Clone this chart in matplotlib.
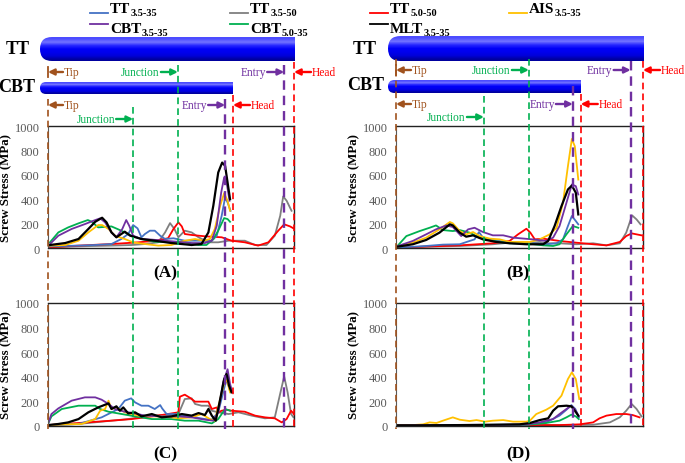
import numpy as np
import matplotlib.pyplot as plt
from matplotlib.patches import FancyBboxPatch, Rectangle

plt.rcParams["font.family"] = ["Liberation Serif", "DejaVu Serif"]

W, H = 685, 464

# ---- stress along the screw (x: mm from the tip, y: MPa) ----
# panel A
a_tt3535_x = [0.4, 6.2, 9.6, 12.9, 14.9, 16.3, 17.3, 18.2, 19.0, 19.7, 20.7, 21.7, 22.8, 23.8, 25.5, 27.8, 31.2, 33.3, 34.3, 35.3, 36.0, 36.5, 37.1]
a_tt3535_y = [16, 22, 27, 35, 76, 117, 190, 163, 90, 117, 144, 144, 103, 76, 82, 62, 62, 62, 103, 266, 416, 375, 307]
a_tt3550_x = [0.4, 6.2, 12.9, 17.0, 19.7, 22.4, 23.8, 24.8, 25.7, 26.5, 27.8, 29.2, 30.6, 32.6, 34.6, 36.7, 38.7, 40.0, 42.1, 44.4, 46.1, 47.2, 47.8, 48.5, 49.5]
a_tt3550_y = [8, 16, 22, 27, 35, 49, 130, 206, 158, 90, 144, 130, 90, 49, 49, 62, 62, 62, 27, 27, 103, 266, 424, 389, 307]
a_cbt3535_x = [0.4, 2.1, 4.8, 7.5, 9.6, 10.6, 11.6, 12.9, 13.9, 15.1, 15.9, 16.5, 17.3, 19.0, 21.1, 23.8, 29.2, 31.9, 33.3, 34.3, 35.2, 35.8, 36.3, 36.9]
a_cbt3535_y = [35, 103, 158, 198, 231, 245, 212, 130, 90, 158, 231, 185, 103, 76, 71, 62, 43, 43, 62, 185, 456, 579, 538, 389]
a_cbt5035_x = [0.4, 2.1, 4.1, 6.2, 8.1, 8.9, 10.2, 12.9, 14.9, 17.0, 19.0, 21.7, 25.1, 27.8, 30.6, 32.2, 33.6, 34.6, 35.8, 36.5, 37.0]
a_cbt5035_y = [49, 130, 171, 204, 231, 217, 171, 179, 144, 103, 76, 54, 49, 49, 27, 27, 76, 144, 247, 239, 217]
a_tt5050_x = [0.4, 6.2, 12.9, 18.4, 21.7, 24.4, 25.5, 26.5, 27.2, 27.8, 29.2, 31.9, 35.3, 37.3, 40.0, 42.7, 44.8, 46.8, 48.0, 49.2, 49.9]
a_tt5050_y = [8, 22, 35, 49, 62, 82, 158, 212, 179, 117, 109, 98, 90, 62, 49, 22, 49, 144, 196, 179, 163]
a_ais_x = [0.4, 3.5, 6.2, 8.2, 10.2, 11.0, 12.3, 13.6, 15.6, 17.3, 19.7, 22.4, 25.1, 27.8, 29.9, 31.6, 32.9, 33.9, 35.0, 35.8, 36.5, 37.0]
a_ais_y = [22, 27, 62, 130, 190, 190, 158, 103, 76, 49, 35, 22, 27, 62, 76, 62, 76, 158, 348, 451, 389, 307]
a_mlt_x = [0.4, 3.5, 6.2, 8.2, 9.6, 11.0, 11.9, 12.9, 13.9, 15.6, 16.7, 19.0, 21.7, 25.1, 29.2, 31.2, 32.6, 33.6, 34.6, 35.4, 36.0, 36.5, 37.0]
a_mlt_y = [27, 43, 76, 158, 217, 250, 212, 130, 90, 136, 103, 76, 62, 43, 27, 35, 130, 348, 620, 701, 674, 538, 402]

# panel B
b_tt3535_x = [0.4, 6.1, 9.5, 12.9, 14.9, 15.9, 16.8, 17.6, 19.0, 21.0, 23.7, 27.7, 30.4, 32.5, 33.8, 34.8, 35.6, 36.4, 36.9]
b_tt3535_y = [5, 19, 30, 33, 60, 73, 133, 87, 73, 60, 41, 41, 33, 41, 73, 182, 264, 223, 196]
b_tt3550_x = [0.4, 6.1, 12.9, 19.6, 23.0, 26.4, 29.1, 30.4, 33.1, 36.5, 39.9, 42.6, 45.3, 46.6, 47.8, 48.7, 49.5]
b_tt3550_y = [5, 14, 19, 33, 46, 41, 52, 41, 41, 33, 41, 24, 41, 128, 269, 236, 196]
b_cbt3535_x = [0.4, 3.4, 6.1, 8.1, 10.2, 11.5, 13.2, 14.6, 15.9, 17.6, 19.6, 21.7, 23.7, 27.7, 30.4, 31.8, 33.1, 34.5, 35.6, 36.4, 36.9]
b_cbt3535_y = [19, 60, 114, 155, 187, 174, 100, 155, 168, 133, 106, 106, 87, 73, 60, 87, 182, 372, 522, 508, 440]
b_cbt5035_x = [0.4, 2.1, 4.8, 6.8, 8.1, 9.5, 11.5, 12.9, 14.9, 16.9, 19.6, 23.0, 26.4, 29.8, 31.8, 33.1, 34.5, 35.8, 36.9]
b_cbt5035_y = [24, 100, 141, 168, 187, 149, 141, 149, 128, 87, 60, 41, 41, 24, 19, 33, 114, 182, 168]
b_tt5050_x = [0.4, 6.1, 12.9, 19.6, 23.0, 24.7, 26.4, 27.2, 28.1, 29.8, 33.1, 36.5, 39.9, 42.6, 45.3, 46.6, 47.7, 48.7, 49.7]
b_tt5050_y = [5, 14, 24, 41, 60, 114, 160, 128, 73, 79, 60, 46, 33, 24, 52, 100, 122, 114, 106]
b_ais_x = [0.4, 3.4, 6.1, 8.8, 10.9, 11.5, 12.9, 14.2, 15.6, 16.9, 19.0, 21.0, 23.0, 25.0, 27.1, 29.1, 31.1, 32.5, 33.8, 34.8, 35.6, 36.2, 36.9]
b_ais_y = [14, 46, 87, 155, 215, 204, 141, 114, 133, 100, 79, 73, 52, 52, 52, 73, 114, 168, 372, 671, 894, 834, 562]
b_mlt_x = [0.4, 3.4, 6.1, 8.8, 10.9, 11.5, 12.9, 14.2, 15.6, 17.6, 20.3, 23.0, 26.4, 29.8, 30.8, 32.1, 33.5, 34.8, 35.6, 36.4, 36.9]
b_mlt_y = [14, 33, 68, 128, 196, 187, 128, 95, 106, 73, 52, 41, 33, 33, 60, 182, 345, 481, 513, 454, 277]

# panel C
c_tt3535_x = [0.0, 6.2, 10.9, 14.3, 15.6, 16.9, 17.7, 19.0, 20.4, 21.7, 22.8, 23.2, 24.1, 25.8, 27.8, 29.9, 31.9, 33.3, 34.6, 35.6, 36.3, 37.0]
c_tt3535_y = [5, 14, 68, 136, 204, 223, 190, 163, 163, 136, 168, 141, 95, 95, 82, 68, 54, 49, 109, 272, 380, 285]
c_tt3550_x = [0.0, 6.2, 12.9, 16.3, 19.7, 23.1, 26.5, 27.8, 29.2, 29.9, 31.2, 32.6, 33.3, 34.6, 36.7, 38.7, 41.4, 44.1, 46.1, 47.1, 48.0, 48.7, 49.4, 49.9]
c_tt3550_y = [5, 14, 41, 54, 76, 87, 95, 217, 223, 177, 163, 163, 122, 109, 95, 109, 82, 60, 68, 245, 402, 272, 95, 68]
c_cbt3535_x = [0.0, 0.7, 2.1, 4.8, 7.5, 9.6, 10.9, 12.3, 13.6, 15.6, 17.7, 19.7, 23.1, 26.5, 29.2, 31.9, 33.6, 34.6, 35.6, 36.5, 37.0, 37.5]
c_cbt3535_y = [14, 95, 141, 204, 231, 231, 212, 177, 136, 114, 100, 82, 76, 76, 68, 49, 41, 109, 353, 460, 340, 272]
c_cbt5035_x = [0.0, 0.7, 2.8, 6.2, 9.6, 10.6, 12.3, 15.0, 17.7, 21.1, 25.1, 27.8, 30.6, 33.3, 34.6, 36.0, 37.0]
c_cbt5035_y = [14, 76, 136, 163, 163, 136, 114, 95, 76, 54, 54, 41, 41, 19, 54, 136, 122]
c_tt5050_x = [0.0, 6.2, 12.9, 17.0, 19.7, 23.1, 26.5, 26.8, 27.8, 28.9, 29.9, 32.6, 33.3, 34.3, 34.6, 35.3, 36.3, 37.3, 40.0, 42.1, 44.1, 46.1, 47.5, 48.5, 49.4, 50.0]
c_tt5050_y = [5, 22, 41, 54, 68, 87, 109, 236, 253, 226, 196, 196, 136, 149, 109, 122, 130, 122, 114, 82, 68, 60, 27, 54, 122, 95]
c_ais_x = [0.0, 3.5, 6.8, 9.6, 10.6, 11.6, 12.3, 12.9, 13.9, 15.6, 18.4, 21.1, 23.8, 26.5, 29.2, 31.2, 32.9, 33.9, 35.0, 36.0, 36.5, 37.0]
c_ais_y = [5, 11, 14, 54, 122, 136, 204, 136, 149, 109, 82, 76, 76, 60, 68, 95, 54, 41, 217, 380, 353, 272]
c_mlt_x = [0.0, 2.1, 4.1, 6.2, 8.2, 10.2, 12.3, 12.9, 13.9, 14.6, 15.3, 16.3, 17.7, 19.0, 21.1, 23.1, 25.1, 27.2, 29.2, 30.6, 31.9, 32.6, 33.3, 34.1, 35.0, 35.8, 36.3, 36.8, 37.3]
c_mlt_y = [5, 14, 27, 54, 109, 149, 182, 136, 158, 122, 149, 100, 109, 76, 95, 68, 76, 95, 82, 103, 87, 136, 82, 41, 217, 380, 421, 326, 272]

# panel D
d_tt3535_x = [0.0, 26.4, 30.4, 33.1, 34.5, 35.5, 36.3, 37.0]
d_tt3535_y = [3, 8, 27, 82, 130, 168, 136, 68]
d_tt3550_x = [0.0, 19.6, 33.1, 39.9, 43.3, 45.3, 46.6, 47.7, 48.7, 49.7]
d_tt3550_y = [3, 5, 5, 8, 27, 68, 122, 177, 136, 76]
d_cbt3535_x = [0.0, 19.6, 26.4, 29.1, 31.8, 33.1, 34.5, 35.5, 36.2, 37.0]
d_cbt3535_y = [3, 5, 11, 27, 54, 95, 136, 163, 136, 76]
d_cbt5035_x = [0.0, 26.4, 30.4, 33.1, 34.5, 35.5, 36.4, 37.0]
d_cbt5035_y = [3, 8, 22, 41, 68, 90, 76, 54]
d_tt5050_x = [0.0, 19.6, 33.1, 37.2, 39.9, 41.2, 42.6, 44.6, 46.6, 47.9, 49.3]
d_tt5050_y = [3, 5, 5, 11, 27, 60, 82, 95, 95, 87, 68]
d_ais_x = [0.0, 3.4, 5.5, 6.8, 8.2, 9.5, 11.5, 12.9, 14.9, 16.3, 18.0, 19.6, 21.7, 23.7, 26.4, 27.1, 28.4, 30.4, 31.8, 33.5, 34.8, 35.6, 36.4, 37.1]
d_ais_y = [5, 5, 11, 27, 22, 41, 68, 49, 38, 46, 33, 41, 46, 33, 33, 41, 95, 130, 163, 245, 380, 435, 380, 217]
d_mlt_x = [0.0, 6.1, 12.9, 19.6, 25.0, 27.1, 29.1, 30.8, 31.8, 32.8, 34.5, 35.5, 36.2, 36.9]
d_mlt_y = [3, 3, 5, 8, 11, 22, 46, 60, 122, 158, 163, 158, 122, 82]

# screw landmarks (mm): tip, CBT junction, TT junction, CBT entry, CBT head, TT entry, TT head
left_marks = [0.0, 17.3, 26.4, 36.0, 37.6, 48.0, 50.0]
right_marks = [0.0, 17.8, 26.9, 35.8, 37.4, 47.5, 50.0]

COL = {"tt3535": "#4472c4", "tt3550": "#7f7f7f", "cbt3535": "#7030a0",
       "cbt5035": "#00b050", "tt5050": "#ff0000", "ais": "#ffc000", "mlt": "#000000"}
BROWN, GREEN, PURPLE, RED = "#a0521d", "#00b050", "#7030a0", "#ff0000"
order = ["tt3550", "tt5050", "tt3535", "cbt5035", "ais", "cbt3535", "mlt"]

panel_data = {
    "A": {"tt3535": (a_tt3535_x, a_tt3535_y), "tt3550": (a_tt3550_x, a_tt3550_y),
          "cbt3535": (a_cbt3535_x, a_cbt3535_y), "cbt5035": (a_cbt5035_x, a_cbt5035_y),
          "tt5050": (a_tt5050_x, a_tt5050_y), "ais": (a_ais_x, a_ais_y), "mlt": (a_mlt_x, a_mlt_y)},
    "B": {"tt3535": (b_tt3535_x, b_tt3535_y), "tt3550": (b_tt3550_x, b_tt3550_y),
          "cbt3535": (b_cbt3535_x, b_cbt3535_y), "cbt5035": (b_cbt5035_x, b_cbt5035_y),
          "tt5050": (b_tt5050_x, b_tt5050_y), "ais": (b_ais_x, b_ais_y), "mlt": (b_mlt_x, b_mlt_y)},
    "C": {"tt3535": (c_tt3535_x, c_tt3535_y), "tt3550": (c_tt3550_x, c_tt3550_y),
          "cbt3535": (c_cbt3535_x, c_cbt3535_y), "cbt5035": (c_cbt5035_x, c_cbt5035_y),
          "tt5050": (c_tt5050_x, c_tt5050_y), "ais": (c_ais_x, c_ais_y), "mlt": (c_mlt_x, c_mlt_y)},
    "D": {"tt3535": (d_tt3535_x, d_tt3535_y), "tt3550": (d_tt3550_x, d_tt3550_y),
          "cbt3535": (d_cbt3535_x, d_cbt3535_y), "cbt5035": (d_cbt5035_x, d_cbt5035_y),
          "tt5050": (d_tt5050_x, d_tt5050_y), "ais": (d_ais_x, d_ais_y), "mlt": (d_mlt_x, d_mlt_y)},
}

fig = plt.figure(figsize=(W / 100, H / 100), dpi=100)


def px_rect(l, t, r, b):
    return [l / W, 1 - b / H, (r - l) / W, (b - t) / H]


# pixel boxes of the four stress plots
boxes = {"A": (48, 127, 294, 249.3), "B": (396, 127, 643, 249.3),
         "C": (48, 304, 294, 426.7), "D": (396, 304, 643, 426.7)}

for name, (l, t, r, b) in boxes.items():
    ax = fig.add_axes(px_rect(l, t, r, b))
    ax.patch.set_alpha(0)
    for key in order:
        xs, ys = panel_data[name][key]
        ax.plot(xs, ys, color=COL[key], lw=1.6 if key == "mlt" else 1.3, solid_joinstyle="round")
    ax.set_xlim(0, 50)
    ax.set_ylim(0, 1000)
    ax.set_xticks([])
    ax.set_yticks(range(0, 1001, 200))
    ax.tick_params(axis="y", length=0, labelsize=9, labelcolor="#595959", pad=6)
    ax.set_ylabel("Screw Stress (MPa)", fontsize=9.3, fontweight="bold", labelpad=2)
    for side in ["top", "right", "bottom"]:
        ax.spines[side].set_color("#222222")
        ax.spines[side].set_linewidth(1.0)
    ax.spines["left"].set_color("#595959")

# overlay in pixel units for screws, landmarks, labels and legend
ov = fig.add_axes([0, 0, 1, 1])
ov.set_xlim(0, W)
ov.set_ylim(H, 0)
ov.axis("off")
ov.patch.set_alpha(0)
ov.set_zorder(10)

grad = np.array([[0.30, 0.30, 1.0], [0.45, 0.45, 1.0], [0.15, 0.15, 1.0], [0.0, 0.0, 0.97],
                 [0.0, 0.0, 0.93], [0.0, 0.0, 0.85], [0.0, 0.0, 0.62]]).reshape(-1, 1, 3)


def draw_screw(x0, x1, y0, y1):
    h = y1 - y0
    rnd = FancyBboxPatch((x0, y0), x1 - x0, h, boxstyle=f"round,pad=0,rounding_size={h / 2}",
                         facecolor="none", edgecolor="none")
    rect = Rectangle((x0 + h, y0), x1 - x0 - h, h, facecolor="none", edgecolor="none")
    for p in (rnd, rect):
        ov.add_patch(p)
        im = ov.imshow(grad, extent=(x0, x1, y1, y0), aspect="auto", interpolation="bilinear")
        im.set_clip_path(p)


def arrow(x_tail, x_head, y, color):
    ov.annotate("", xy=(x_head, y), xytext=(x_tail, y),
                arrowprops=dict(arrowstyle="-|>", color=color, lw=1.7, mutation_scale=9,
                                shrinkA=0, shrinkB=0))


def label(x, y, s, color, ha):
    ov.text(x, y, s, color=color, fontsize=8.3, ha=ha, va="center")


sides = [
    # (marks, px left, px right, screw tops/bottoms, label rows, dashed starts)
    (left_marks, 48, 294, (38, 62, 83, 95), (73, 106, 120), (100, 108, 66, 100, 96, 66, 63)),
    (right_marks, 396, 643, (37, 62, 81, 94), (71, 105, 118), (60, 97, 60, 87, 95, 62, 62)),
]
dash_cols = [BROWN, GREEN, GREEN, PURPLE, RED, PURPLE, RED]

for marks, pl, pr, (t1, b1, t2, b2), (r1, r2, r3), starts in sides:
    px = [pl + m / 50 * (pr - pl) for m in marks]
    tip, cj, tj, ce, ch, te, th = px
    draw_screw(tip - 8, th + 1, t1, b1)
    draw_screw(tip - 8, ch, t2, b2)
    for x, y0, c in zip(px, starts, dash_cols):
        ov.plot([x, x], [y0, 430], color=c, lw=1.7 if c == PURPLE else 1.2,
                ls=(0, (4, 2.5)), solid_capstyle="butt")
    # TT row
    ov.plot([tip, tip], [r1 - 5, r1 + 5], color=BROWN, lw=1.3)
    arrow(tip + 15, tip, r1, BROWN)
    label(tip + 16, r1, "Tip", BROWN, "left")
    arrow(tj - 17, tj, r1, GREEN)
    label(tj - 18, r1, "Junction", GREEN, "right")
    arrow(te - 17, te, r1, PURPLE)
    label(te - 18, r1, "Entry", PURPLE, "right")
    arrow(th + 17, th, r1, RED)
    label(th + 18, r1, "Head", RED, "left")
    # CBT rows
    arrow(tip + 15, tip, r2, BROWN)
    label(tip + 16, r2, "Tip", BROWN, "left")
    arrow(ce - 17, ce, r2, PURPLE)
    label(ce - 18, r2, "Entry", PURPLE, "right")
    arrow(ch + 17, ch, r2, RED)
    label(ch + 18, r2, "Head", RED, "left")
    arrow(cj - 17, cj, r3, GREEN)
    label(cj - 18, r3, "Junction", GREEN, "right")

# screw names
for x, y, s in [(18, 50, "TT"), (17, 88, "CBT"), (365, 49, "TT"), (366, 85, "CBT")]:
    ov.text(x, y, s, fontsize=13, fontweight="bold", ha="center", va="center")

# panel letters
for x, y, s in [(165, 273, "(A)"), (518, 273, "(B)"), (165, 454, "(C)"), (518, 454, "(D)")]:
    ov.text(x, y, s, fontsize=12.5, fontweight="bold", ha="center", va="center")

# legend
renderer = fig.canvas.get_renderer()
legend_items = [
    ("tt3535", "TT", "3.5-35", 90, 14, 13), ("tt3550", "TT", "3.5-50", 230, 14, 13),
    ("cbt3535", "CBT", "3.5-35", 90, 25, 33), ("cbt5035", "CBT", "5.0-35", 230, 25, 33),
    ("tt5050", "TT", "5.0-50", 370, 14, 13), ("ais", "AIS", "3.5-35", 509, 14, 13),
    ("mlt", "MLT", "3.5-35", 370, 25, 33),
]
for key, main, sub, x, y_line, y_base in legend_items:
    ov.plot([x, x + 18], [y_line, y_line], color=COL[key], lw=1.3)
    t = ov.text(x + 20, y_base, main, fontsize=11, fontweight="bold", ha="left", va="baseline")
    bb = t.get_window_extent(renderer)
    x_end = ov.transData.inverted().transform((bb.x1, bb.y0))[0]
    ov.text(x_end, y_base + 3, sub, fontsize=7.5, fontweight="bold", ha="left", va="baseline")

ov.set_xlim(0, W)
ov.set_ylim(H, 0)

fig.savefig("out.png", dpi=100)
